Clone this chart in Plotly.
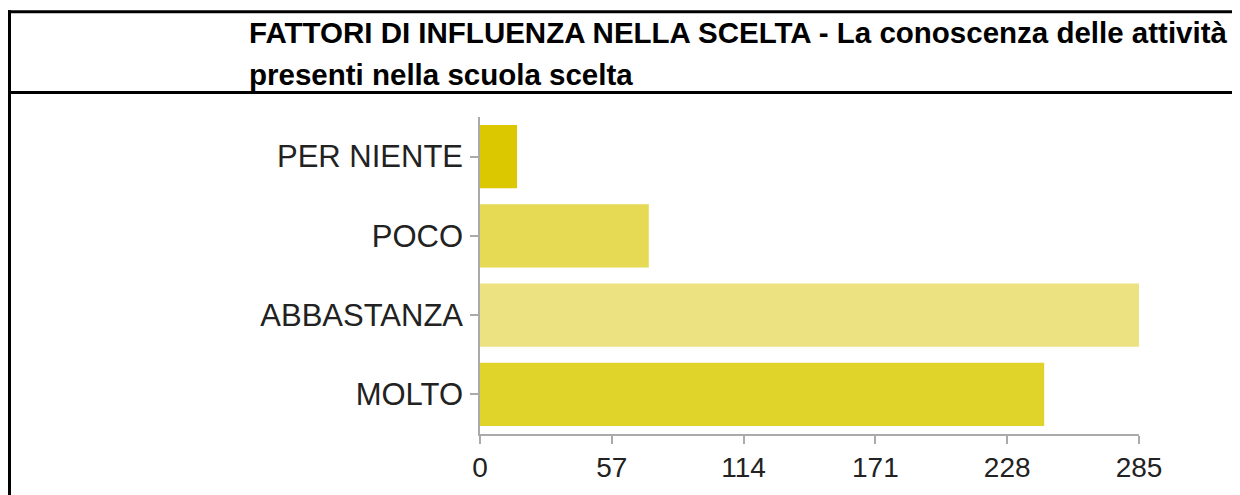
import plotly.graph_objects as go

categories = ["PER NIENTE", "POCO", "ABBASTANZA", "MOLTO"]
values = [16, 73, 285, 244]
bar_colors = ["#dcc800", "#e6da55", "#ede282", "#e0d32a"]
x_ticks = [0, 57, 114, 171, 228, 285]
title_line1 = "<b>FATTORI DI INFLUENZA NELLA SCELTA - La conoscenza delle attività</b>"
title_line2 = "<b>presenti nella scuola scelta</b>"

OFF = 8  # default body margin of the html page
W, H = 1240 - OFF, 495 - OFF
L, R, T, B = 472, 101, 109, 56
PW, PH = W - L - R, H - T - B

def px_x(px):
    return (px - OFF - L) / PW

def px_y(py):
    return (H - B - (py - OFF)) / PH

fig = go.Figure(go.Bar(
    x=values, y=categories, orientation="h",
    marker=dict(color=bar_colors, line=dict(width=0)),
    hoverinfo="x+y",
))

font_family = "Liberation Sans, Arial, Helvetica, sans-serif"

fig.update_layout(
    width=W, height=H,
    margin=dict(l=L, r=R, t=T, b=B, pad=0),
    paper_bgcolor="white", plot_bgcolor="white",
    bargap=0.2,
    showlegend=False,
    font=dict(family=font_family, color="#222222"),
    xaxis=dict(
        range=[0, 285], tickvals=x_ticks, ticktext=[str(v) for v in x_ticks],
        showgrid=False, zeroline=False, showline=True, linecolor="#aaaaaa", linewidth=1.5,
        ticks="outside", ticklen=8, tickwidth=1.5, tickcolor="#aaaaaa",
        tickfont=dict(size=28, family=font_family, color="#222222"),
        fixedrange=True,
    ),
    yaxis=dict(
        categoryorder="array", categoryarray=categories, autorange="reversed",
        showgrid=False, zeroline=False, showline=True, linecolor="#aaaaaa", linewidth=1.5,
        ticks="outside", ticklen=8, tickwidth=1.5, tickcolor="#aaaaaa",
        tickfont=dict(size=31, family=font_family, color="#222222"),
        ticklabelstandoff=1,
        fixedrange=True,
    ),
    shapes=[
        dict(type="line", xref="paper", yref="paper", x0=px_x(6), x1=px_x(1260), y0=px_y(10), y1=px_y(10),
             line=dict(color="black", width=3)),
        dict(type="line", xref="paper", yref="paper", x0=px_x(6), x1=px_x(1260), y0=px_y(92), y1=px_y(92),
             line=dict(color="black", width=3)),
        dict(type="line", xref="paper", yref="paper", x0=px_x(9.5), x1=px_x(9.5), y0=px_y(8.5), y1=px_y(520),
             line=dict(color="black", width=3)),
    ],
    annotations=[
        dict(text=title_line1, xref="paper", yref="paper", x=px_x(247), y=px_y(31),
             xanchor="left", yanchor="middle", align="left", showarrow=False,
             font=dict(size=29.5, family=font_family, color="black")),
        dict(text=title_line2, xref="paper", yref="paper", x=px_x(247), y=px_y(74),
             xanchor="left", yanchor="middle", align="left", showarrow=False,
             font=dict(size=29.5, family=font_family, color="black")),
    ],
)

fig.write_html("out.html")
